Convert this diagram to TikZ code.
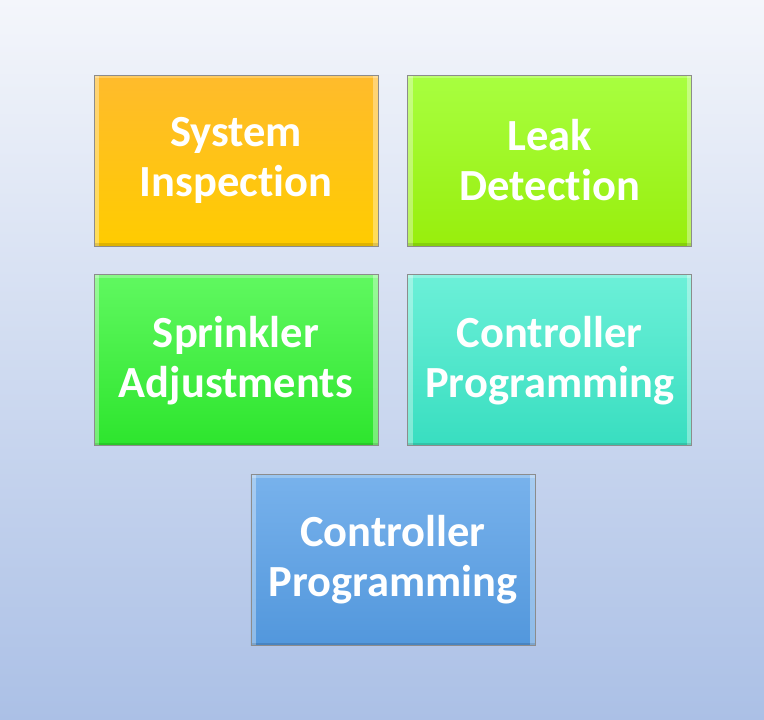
\documentclass[tikz,border=0pt]{standalone}
\usepackage{fontspec}
\setmainfont{Carlito}[Ligatures=NoCommon]
\usetikzlibrary{positioning, calc}

\definecolor{bgtop}{HTML}{F4F6FB}
\definecolor{bgbot}{HTML}{ABC0E6}
\definecolor{insptop}{HTML}{FFBB2C}
\definecolor{inspbot}{HTML}{FFCC00}
\definecolor{leaktop}{HTML}{A8FF40}
\definecolor{leakbot}{HTML}{98EE0C}
\definecolor{sprktop}{HTML}{60F860}
\definecolor{sprkbot}{HTML}{2DE52D}
\definecolor{ctrltop}{HTML}{6CF0D8}
\definecolor{ctrlbot}{HTML}{38DEC0}
\definecolor{progtop}{HTML}{78B2EC}
\definecolor{progbot}{HTML}{5297DC}

\tikzset{
  tile/.style={draw=black!45, line width=0.8pt, minimum width=284pt, minimum height=171pt,
    inner sep=0pt, align=center, text=white,
    font=\fontsize{44.5}{50}\selectfont\bfseries,
    top color=#1top, bottom color=#1bot,
    path picture={
      \fill[white, opacity=0.35] (path picture bounding box.north west) rectangle
        ([xshift=5pt]path picture bounding box.south west);
      \fill[white, opacity=0.35] (path picture bounding box.north east) rectangle
        ([xshift=-5pt]path picture bounding box.south east);
      \fill[white, opacity=0.25] (path picture bounding box.north west) rectangle
        ([yshift=-3pt]path picture bounding box.north east);
      \fill[black, opacity=0.12] (path picture bounding box.south west) rectangle
        ([yshift=3pt]path picture bounding box.south east);
    }},
  node distance=28pt and 29pt
}

\begin{document}
\begin{tikzpicture}[x=1pt, y=-1pt]
      % background
      \shade[top color=bgtop, bottom color=bgbot] (0,0) rectangle (764,720);
      \useasboundingbox (0,0) rectangle (764,720);

      \node[tile=insp] (insp) at (236,160.5) {System\\Inspection};
      \node[tile=leak, right=of insp] (leak) {Leak\\Detection};
      \node[tile=sprk, below=of insp] (sprk) {Sprinkler\\Adjustments};
      \node[tile=ctrl, below=of leak] (ctrl) {Controller\\Programming};
      \node[tile=prog, anchor=north]
        (prog) at ([yshift=-28pt]$(sprk.south)!0.5!(ctrl.south)$) {Controller\\Programming};
\end{tikzpicture}
\end{document}
